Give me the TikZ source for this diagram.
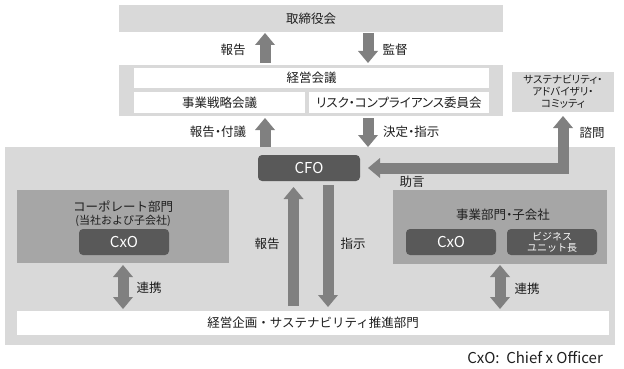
\documentclass[tikz,border=0pt]{standalone}
\usepackage{fontspec}
\setmainfont{Noto Sans CJK JP}
\newfontfamily\pfont{Noto Sans CJK JP}[RawFeature=+palt]
\usetikzlibrary{arrows.meta}
\definecolor{lg}{HTML}{D9D9D9}
\definecolor{mg}{HTML}{A6A6A6}
\definecolor{dg}{HTML}{595959}
\definecolor{ac}{HTML}{808080}
\definecolor{tx}{HTML}{1E1E1E}
\begin{document}
\begin{tikzpicture}[x=1pt,y=-1pt,
  box/.style={anchor=north west, inner sep=0pt, outer sep=0pt, draw=none, text=tx,
    font=\fontsize{12.5}{14}\selectfont},
  dbox/.style={box, fill=dg, rounded corners=4pt, text=white, font=\fontsize{15}{17}\selectfont},
  lbl/.style={inner sep=0pt, text=tx, font=\fontsize{12.5}{14}\selectfont},
  tipx/.tip={Triangle[width=20pt 0 0,length=12pt 0 0,line width=0pt 0 0]},
  arr/.style={draw=ac, line width=11pt, -tipx},
  darr/.style={draw=ac, line width=11pt, tipx-tipx},
]
\useasboundingbox (0,0) rectangle (624,369);
% boxes
\node[box, fill=lg, minimum width=384pt, minimum height=27pt] (board) at (119,5) {取締役会};
\node[box, fill=lg, minimum width=384pt, minimum height=51pt] (mgmtbg) at (119,65) {};
\node[box, fill=white, minimum width=355pt, minimum height=20pt] (mgmt) at (134,68) {経営会議};
\node[box, fill=white, minimum width=171pt, minimum height=21pt] (bsm) at (134,92) {事業戦略会議};
\node[box, fill=white, minimum width=180pt, minimum height=21pt] (risk) at (309,92) {\pfont リスク・コンプライアンス委員会};
\node[box, fill=lg, minimum width=102pt, minimum height=40pt, align=center,
  font=\pfont\fontsize{10.5}{12}\selectfont] (sac) at (512,72) {サステナビリティ・\\アドバイザリ・\\コミッティ};
\node[box, fill=lg, minimum width=610pt, minimum height=198pt] (main) at (5,147) {};
\node[dbox, minimum width=102pt, minimum height=26pt] (cfo) at (258,155) {CFO};
\node[box, fill=mg, minimum width=212pt, minimum height=73pt] (corp) at (17,190) {};
\node[lbl] (corpt) at (123,207) {コーポレート部門};
\node[lbl, font=\fontsize{11}{13}\selectfont] (corps) at (123,221) {(当社および子会社)};
\node[dbox, minimum width=90pt, minimum height=26pt] (ccxo) at (79,229) {CxO};
\node[box, fill=mg, minimum width=214pt, minimum height=74pt] (bus) at (393,190) {};
\node[lbl] (bust) at (503,215) {\pfont 事業部門・子会社};
\node[dbox, minimum width=90pt, minimum height=26pt] (bcxo) at (406,229) {CxO};
\node[dbox, minimum width=90pt, minimum height=26pt, align=center,
  font=\fontsize{10}{11}\selectfont] (bul) at (507,229) {ビジネス\\ユニット長};
\node[box, fill=white, minimum width=592pt, minimum height=24pt] (plan) at (17,311) {経営企画・サステナビリティ推進部門};
\node[lbl, anchor=east, font=\fontsize{15}{17}\selectfont] (note) at (603,358) {CxO:\ \ Chief x Officer};
% arrow columns
\coordinate (xa) at (265,0);
\coordinate (xb) at (368,0);
\coordinate (xc) at (293.5,0);
\coordinate (xd) at (328,0);
% arrows
\draw[arr, shorten <=2pt, shorten >=1pt] (xa |- mgmtbg.north) -- (xa |- board.south);
\draw[arr, shorten <=1pt, shorten >=2pt] (xb |- board.south) -- (xb |- mgmtbg.north);
\draw[arr, shorten >=2pt] (xa |- main.north) -- (xa |- mgmtbg.south);
\draw[arr, shorten <=2pt] (xb |- mgmtbg.south) -- (xb |- main.north);
\draw[darr, line join=miter, shorten <=8pt, shorten >=4pt] (cfo.east) -| (sac.south);
\draw[arr, shorten <=5pt, shorten >=6pt] (xc |- plan.north) -- (xc |- cfo.south);
\draw[arr, shorten <=4pt, shorten >=4pt] (xd |- cfo.south) -- (xd |- plan.north);
\draw[darr, shorten <=2pt, shorten >=2pt] (corp.south) -- (corp.south |- plan.north);
\draw[darr, shorten <=1pt, shorten >=2pt] (bus.south) -- (bus.south |- plan.north);
% labels
\node[lbl] (l1) at (233,50) {報告};
\node[lbl] (l2) at (395,50) {監督};
\node[lbl] (l3) at (218,132) {\pfont 報告・付議};
\node[lbl, anchor=west] (l4) at (383,132) {\pfont 決定・指示};
\node[lbl] (l5) at (592,133) {諮問};
\node[lbl] (l6) at (412,182) {助言};
\node[lbl] (l7) at (267,244) {報告};
\node[lbl] (l8) at (353,244) {指示};
\node[lbl] (l9) at (149,288) {連携};
\node[lbl] (l10) at (527,289) {連携};
\end{tikzpicture}
\end{document}
